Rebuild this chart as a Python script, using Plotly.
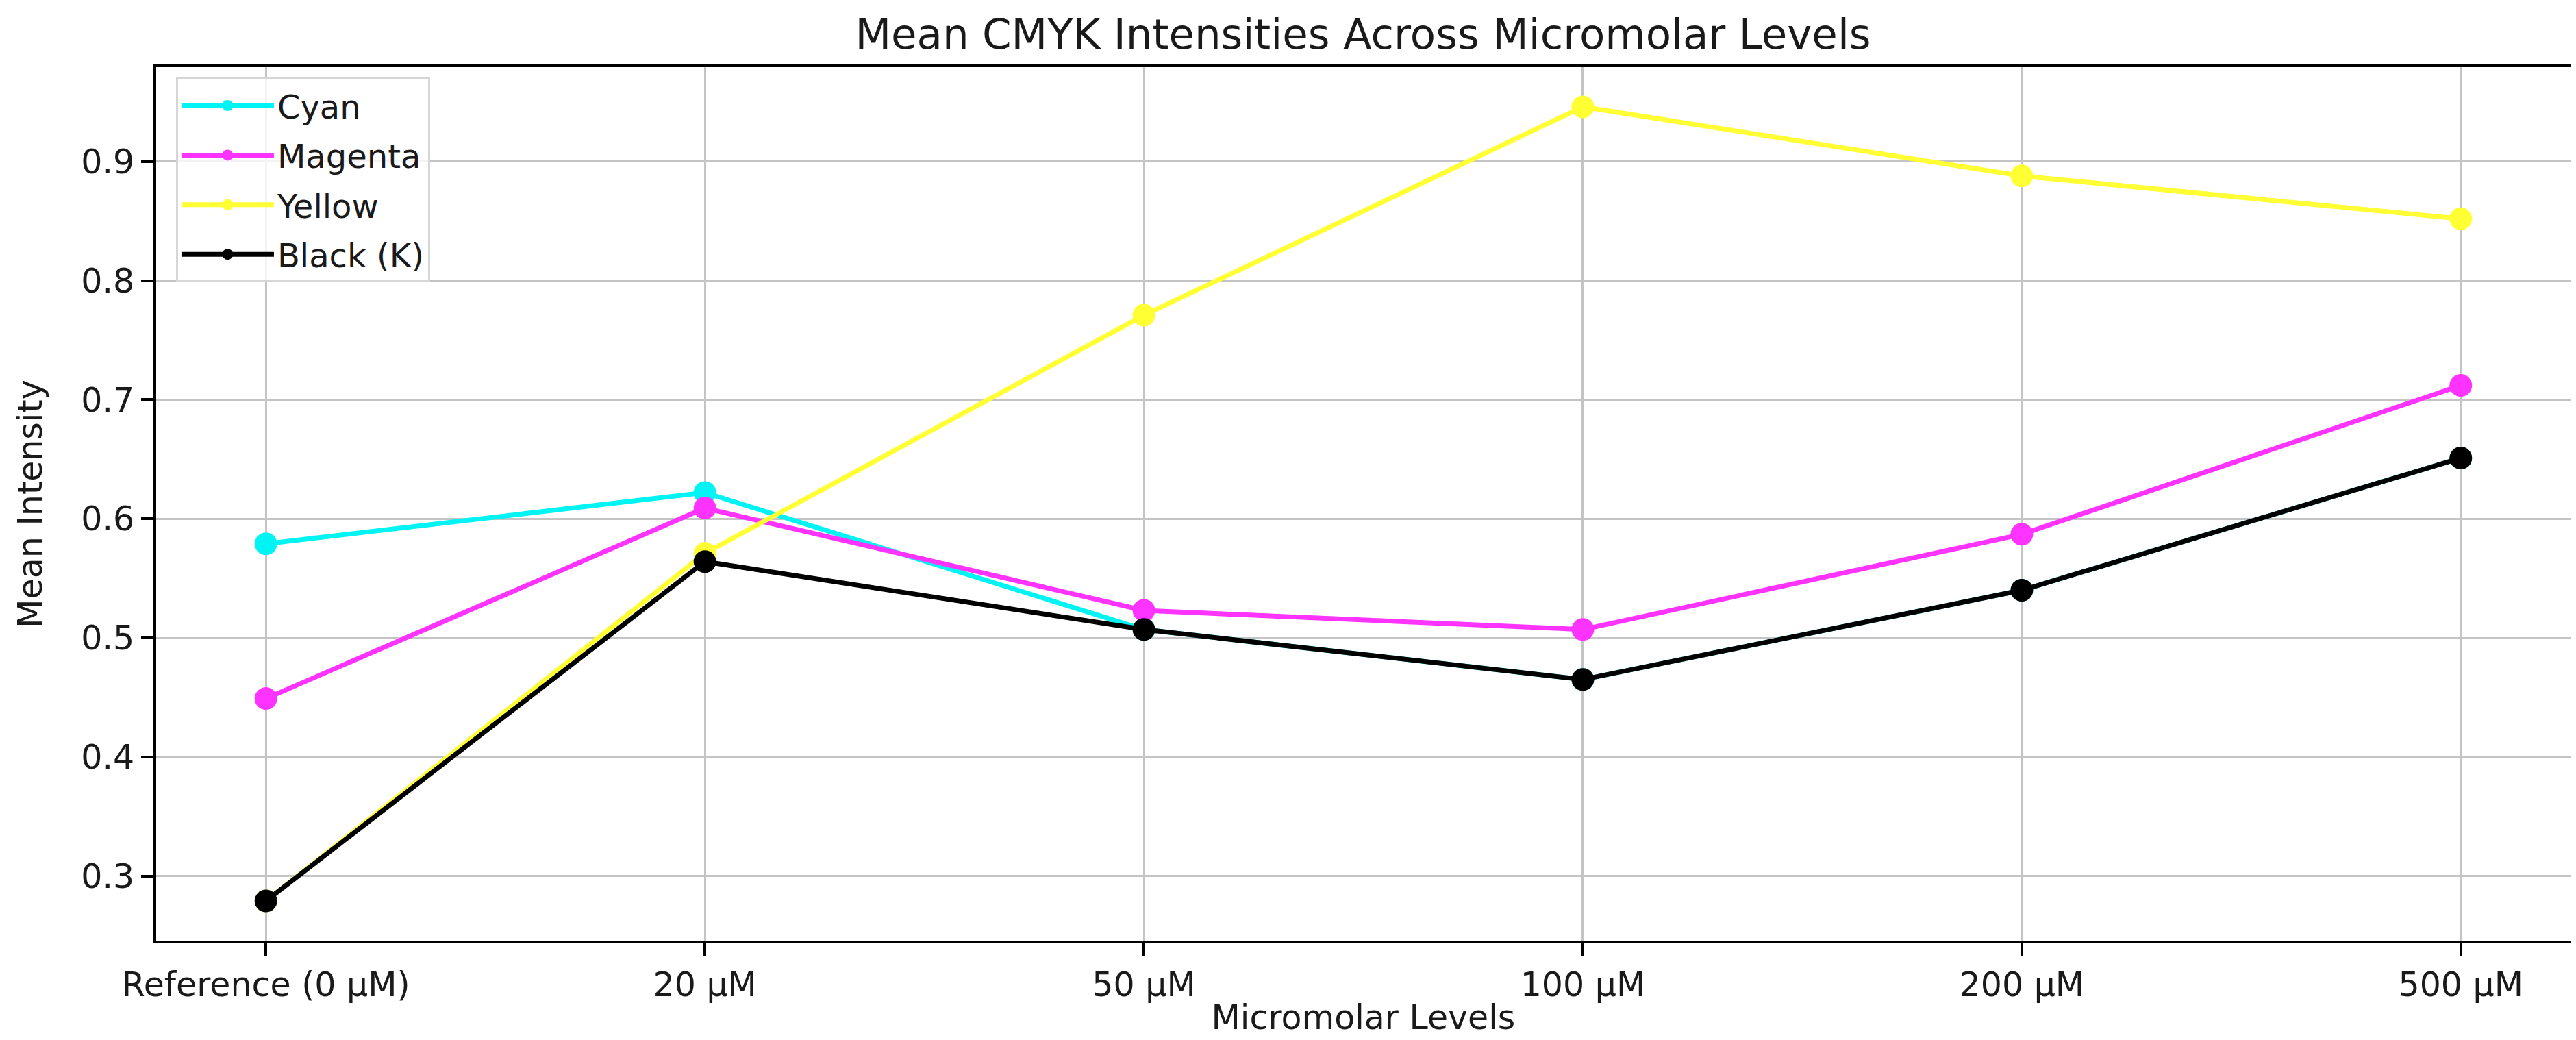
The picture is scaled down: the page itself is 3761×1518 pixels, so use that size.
import plotly.graph_objects as go

categories = ["Reference (0 µM)", "20 µM", "50 µM", "100 µM", "200 µM", "500 µM"]
cyan = [0.579, 0.622, 0.507, 0.465, 0.540, 0.651]
magenta = [0.449, 0.609, 0.523, 0.507, 0.587, 0.712]
yellow = [0.279, 0.571, 0.771, 0.946, 0.888, 0.852]
black = [0.279, 0.564, 0.507, 0.465, 0.540, 0.651]
y_ticks = [0.3, 0.4, 0.5, 0.6, 0.7, 0.8, 0.9]

series = [
    ("Cyan", cyan, "#00f4f4"),
    ("Magenta", magenta, "#ff33ff"),
    ("Yellow", yellow, "#ffff33"),
    ("Black (K)", black, "#000000"),
]

FONT = "DejaVu Sans"
W, H = 3761, 1518
TXT = "#1a1a1a"

fig = go.Figure()
for name, vals, col in series:
    fig.add_trace(go.Scatter(
        x=categories, y=vals, name=name, mode="lines+markers",
        legendgroup=name,
        line=dict(color=col, width=7),
        marker=dict(color=col, size=33),
    ))

allv = cyan + magenta + yellow + black
lo, hi = min(allv), max(allv)
pad = (hi - lo) * 0.05

axis_common = dict(
    showline=True, linecolor="black", linewidth=4, mirror=True,
    ticks="outside", ticklen=18, tickwidth=4, tickcolor="black",
    showgrid=True, gridcolor="#c4c4c4", gridwidth=3,
    tickfont=dict(family=FONT, size=49, color=TXT),
    zeroline=False,
)

fig.update_layout(
    width=W, height=H,
    paper_bgcolor="white", plot_bgcolor="white",
    margin=dict(l=220, r=16, t=90, b=153),
    title=dict(text="Mean CMYK Intensities Across Micromolar Levels",
               x=1982 / W, xanchor="center", y=1 - 42 / H, yanchor="middle",
               font=dict(family=FONT, size=61, color=TXT)),
    xaxis=dict(type="category", range=[-0.25, 5.25],
               title=dict(text="Micromolar Levels", standoff=4,
                          font=dict(family=FONT, size=49, color=TXT)),
               **axis_common),
    yaxis=dict(range=[lo - pad, hi + pad], tickvals=y_ticks,
               ticktext=[f"{v:.1f}" for v in y_ticks],
               title=dict(text="Mean Intensity", standoff=42,
                          font=dict(family=FONT, size=49, color=TXT)),
               **axis_common),
    legend=dict(x=0.0082, y=0.988, xanchor="left", yanchor="top",
                bgcolor="rgba(255,255,255,0.8)", bordercolor="#d6d6d6",
                borderwidth=3, font=dict(family=FONT, size=48, color=TXT),
                itemwidth=135, tracegroupgap=7, traceorder="grouped"),
    showlegend=True,
)

fig.write_html("out.html")
